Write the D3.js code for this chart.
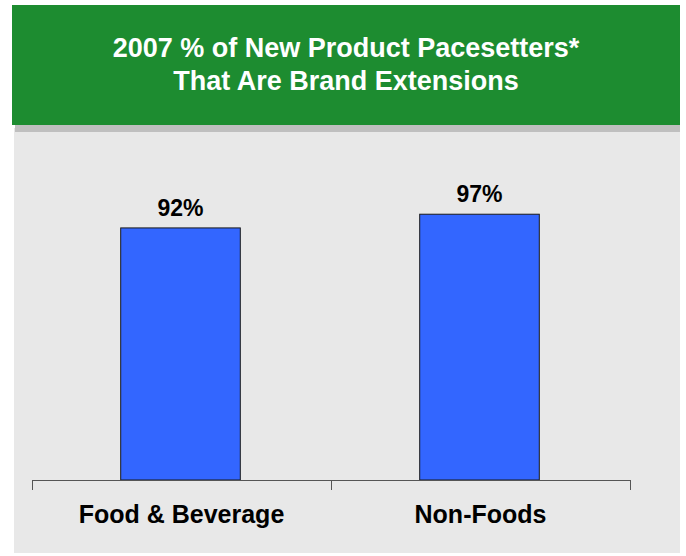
<!DOCTYPE html>
<html><head><meta charset="utf-8">
<script src="https://cdn.jsdelivr.net/npm/d3@7"></script>
<style>body{margin:0;background:#fff}svg{display:block}</style>
</head><body>
<script>
const categories = ["Food & Beverage", "Non-Foods"];
const values = [92, 97];
const valueLabels = ["92%", "97%"];
const titleLines = ["2007 % of New Product Pacesetters*", "That Are Brand Extensions"];

const W = 686, H = 556;
const svg = d3.select("body").append("svg").attr("width", W).attr("height", H);
const font = "'Liberation Sans', Arial, Helvetica, sans-serif";

// panel background + shadow
svg.append("rect").attr("x", 14).attr("y", 128).attr("width", 666).attr("height", 425).attr("fill", "#e8e8e8");
svg.append("rect").attr("x", 15).attr("y", 125).attr("width", 665).attr("height", 7).attr("fill", "#bfbfbf");
// header
svg.append("rect").attr("x", 12).attr("y", 5).attr("width", 668).attr("height", 120).attr("fill", "#1d8c30");
svg.append("g").selectAll("text").data(titleLines).join("text")
  .attr("x", 346).attr("y", (d, i) => 57 + i * 33)
  .attr("text-anchor", "middle").attr("fill", "#fff")
  .attr("font-family", font).attr("font-weight", "bold").attr("font-size", 27)
  .text(d => d);

const x = d3.scaleBand().domain(categories).range([32, 630]).paddingInner(0).paddingOuter(0);
const y = d3.scaleLinear().domain([0, 100]).range([480, 206]);
const bw = x.bandwidth() * 0.4;

svg.append("g").selectAll("rect").data(values).join("rect")
  .attr("x", (d, i) => x(categories[i]) + x.bandwidth() / 2 - bw / 2 - 1)
  .attr("y", d => y(d))
  .attr("width", bw)
  .attr("height", d => y(0) - y(d))
  .attr("fill", "#3366ff").attr("stroke", "#1a1a1a").attr("stroke-width", 1);

svg.append("g").selectAll("text").data(values).join("text")
  .attr("x", (d, i) => x(categories[i]) + x.bandwidth() / 2 - 1)
  .attr("y", d => y(d) - 12)
  .attr("text-anchor", "middle").attr("fill", "#000")
  .attr("font-family", font).attr("font-weight", "bold").attr("font-size", 23)
  .text((d, i) => valueLabels[i]);

// axis
const ax = svg.append("g").attr("stroke", "#555").attr("stroke-width", 1);
ax.append("line").attr("x1", 32).attr("x2", 630).attr("y1", y(0) + 0.5).attr("y2", y(0) + 0.5);
const tickPos = categories.map(c => x(c)).concat([x.range()[1]]);
ax.selectAll("line.t").data(tickPos).join("line").attr("class", "t")
  .attr("x1", d => Math.round(d) + 0.5).attr("x2", d => Math.round(d) + 0.5)
  .attr("y1", y(0)).attr("y2", y(0) + 10);

svg.append("g").selectAll("text").data(categories).join("text")
  .attr("x", d => x(d) + x.bandwidth() / 2)
  .attr("y", 523)
  .attr("text-anchor", "middle").attr("fill", "#000")
  .attr("font-family", font).attr("font-weight", "bold").attr("font-size", 25)
  .text(d => d);
</script>
</body></html>
